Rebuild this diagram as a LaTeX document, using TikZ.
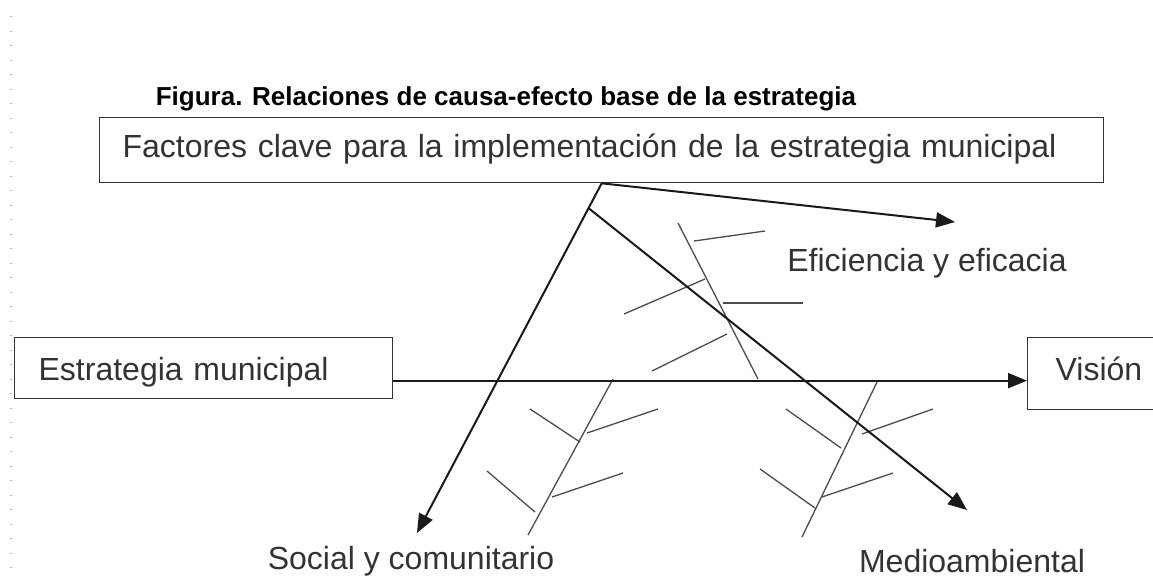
\documentclass[tikz,border=0pt]{standalone}
\usepackage{fontspec}
\setmainfont{Liberation Sans}
\usetikzlibrary{arrows.meta,calc}
\begin{document}
\begin{tikzpicture}[x=1pt,y=-1pt,
  box/.style={draw=black!80,line width=1.3pt,rectangle,inner ysep=0pt,align=left,
    font=\fontsize{32}{38}\selectfont,text=black!80,anchor=north west},
  lbl/.style={font=\fontsize{32}{38}\selectfont,text=black!80,inner sep=0pt,anchor=base},
  arr/.style={draw=black!90,line width=2pt,-{Triangle[length=19pt,width=15pt]}},
  bone/.style={draw=black!70,line width=1.3pt},
]
\clip (0,0) rectangle (1153,579);
\fill[white] (0,0) rectangle (1153,579);
\draw[black!30,line width=1.2pt,dash pattern=on 1.2pt off 13.3pt] (11,16) -- (11,579);
\node[font=\bfseries\fontsize{26}{30}\selectfont,anchor=base,inner sep=0pt] (title) at (506,105)
  {Figura. Relaciones de causa-efecto base de la estrategia};
\node[box,inner xsep=23pt,text width=958pt,text height=40pt,text depth=25pt] (fk) at (99,117)
  {Factores clave para la implementación de la estrategia municipal};
\node[box,inner xsep=24pt,text width=330pt,text height=43pt,text depth=18pt] (est) at (14,337)
  {Estrategia municipal};
\node[box,inner xsep=28pt,text width=140pt,text height=43pt,text depth=29pt] (vis) at (1027,337)
  {Visión};
\node[lbl] (ef) at (927,271) {Eficiencia y eficacia};
\node[lbl] (so) at (411,569) {Social y comunitario};
\node[lbl] (me) at (972,572) {Medioambiental};
% fishbones
\draw[bone] (678,223) -- (758,379);
\draw[bone] (694,241) -- (765,231);
\draw[bone] (705,279) -- (624,314);
\draw[bone] (723,303) -- (803,303);
\draw[bone] (727,334) -- (652,371);
\draw[bone] (613,379) -- (528,535);
\draw[bone] (530,409) -- (580,442);
\draw[bone] (587,433) -- (658,409);
\draw[bone] (487,471) -- (535,512);
\draw[bone] (552,497) -- (623,473);
\draw[bone] (877,382) -- (802,537);
\draw[bone] (786,409) -- (841,448);
\draw[bone] (862,434) -- (933,409);
\draw[bone] (760,469) -- (815,508);
\draw[bone] (822,497) -- (893,473);
% arrows
\coordinate (efTip) at (955,222);
\coordinate (soTip) at (417,533);
\coordinate (meTip) at (967,510);
\draw[arr] (fk.south) -- (efTip);
\draw[arr] (fk.south) -- (soTip);
\draw[arr] ($(fk.south)!0.071!(soTip)$) -- (meTip);
\draw[arr] ([yshift=-12.5pt]est.east) -- ([yshift=-7pt]vis.west);
\end{tikzpicture}
\end{document}
